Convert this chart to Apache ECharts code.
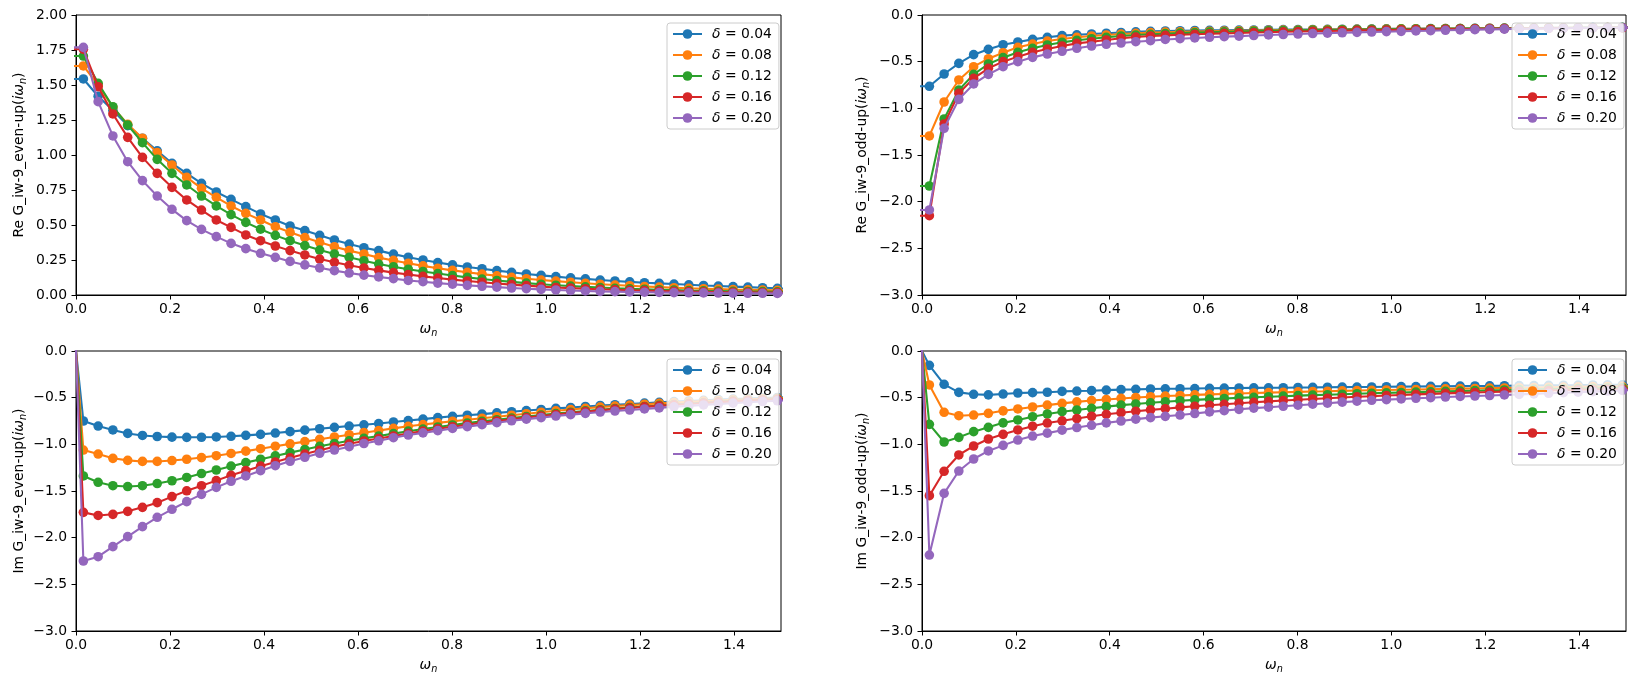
<!DOCTYPE html>
<html><head><meta charset="utf-8">
<script src="https://cdn.jsdelivr.net/npm/echarts@6/dist/echarts.min.js"></script>
<style>html,body{margin:0;padding:0;background:#fff}#c{width:1636px;height:685px}</style>
</head><body><div id="c"></div>
<script>
// Matsubara frequencies (first one negative, last one just past the axis end)
const omega = [-0.0157, 0.0157, 0.0471, 0.0785, 0.1100, 0.1414, 0.1728, 0.2042, 0.2356, 0.2670, 0.2985, 0.3299, 0.3613, 0.3927, 0.4241, 0.4555, 0.4869, 0.5184, 0.5498, 0.5812, 0.6126, 0.6440, 0.6754, 0.7069, 0.7383, 0.7697, 0.8011, 0.8325, 0.8639, 0.8954, 0.9268, 0.9582, 0.9896, 1.0210, 1.0524, 1.0838, 1.1153, 1.1467, 1.1781, 1.2095, 1.2409, 1.2723, 1.3038, 1.3352, 1.3666, 1.3980, 1.4294, 1.4608, 1.4923, 1.5237];
const seriesNames = ['δ = 0.04', 'δ = 0.08', 'δ = 0.12', 'δ = 0.16', 'δ = 0.20'];
const xTickValues = [0, 0.2, 0.4, 0.6, 0.8, 1.0, 1.2, 1.4];
const yTicksRe = [0, 0.25, 0.5, 0.75, 1.0, 1.25, 1.5, 1.75, 2.0];
const yTicksNeg = [-3.0, -2.5, -2.0, -1.5, -1.0, -0.5, 0.0];

// Re G even-up
const reEvenD004 = [1.543, 1.543, 1.42, 1.32, 1.21, 1.12, 1.03, 0.94, 0.869, 0.798, 0.736, 0.683, 0.631, 0.579, 0.536, 0.493, 0.46, 0.426, 0.393, 0.364, 0.338, 0.317, 0.292, 0.270, 0.250, 0.232, 0.215, 0.200, 0.188, 0.174, 0.162, 0.150, 0.140, 0.131, 0.122, 0.115, 0.107, 0.100, 0.094, 0.088, 0.083, 0.078, 0.073, 0.068, 0.064, 0.060, 0.056, 0.052, 0.048, 0.045];
const reEvenD008 = [1.636, 1.636, 1.50, 1.34, 1.22, 1.12, 1.017, 0.929, 0.84, 0.762, 0.698, 0.636, 0.583, 0.536, 0.488, 0.448, 0.41, 0.376, 0.345, 0.317, 0.293, 0.267, 0.247, 0.227, 0.208, 0.191, 0.176, 0.162, 0.149, 0.137, 0.126, 0.116, 0.107, 0.099, 0.091, 0.084, 0.077, 0.071, 0.066, 0.061, 0.056, 0.052, 0.048, 0.045, 0.042, 0.039, 0.037, 0.035, 0.033, 0.031];
const reEvenD012 = [1.707, 1.707, 1.512, 1.345, 1.214, 1.088, 0.969, 0.869, 0.786, 0.707, 0.636, 0.574, 0.519, 0.470, 0.426, 0.388, 0.353, 0.321, 0.293, 0.269, 0.245, 0.221, 0.202, 0.184, 0.168, 0.153, 0.139, 0.126, 0.114, 0.104, 0.094, 0.085, 0.077, 0.070, 0.064, 0.058, 0.053, 0.048, 0.044, 0.041, 0.038, 0.035, 0.032, 0.030, 0.028, 0.026, 0.025, 0.024, 0.023, 0.022];
const reEvenD016 = [1.755, 1.755, 1.488, 1.293, 1.126, 0.983, 0.869, 0.769, 0.679, 0.607, 0.536, 0.483, 0.429, 0.388, 0.35, 0.317, 0.286, 0.257, 0.234, 0.212, 0.193, 0.176, 0.160, 0.146, 0.133, 0.121, 0.110, 0.100, 0.091, 0.082, 0.074, 0.067, 0.060, 0.054, 0.049, 0.045, 0.041, 0.037, 0.034, 0.031, 0.029, 0.027, 0.025, 0.023, 0.021, 0.020, 0.019, 0.018, 0.017, 0.016];
const reEvenD020 = [1.769, 1.769, 1.381, 1.136, 0.952, 0.817, 0.707, 0.612, 0.531, 0.469, 0.417, 0.369, 0.331, 0.298, 0.269, 0.240, 0.215, 0.194, 0.174, 0.157, 0.142, 0.129, 0.117, 0.104, 0.095, 0.085, 0.077, 0.069, 0.062, 0.056, 0.050, 0.045, 0.040, 0.036, 0.032, 0.029, 0.026, 0.024, 0.022, 0.020, 0.018, 0.017, 0.016, 0.015, 0.014, 0.013, 0.012, 0.012, 0.011, 0.011];

// Re G odd-up
const reOddD004 = [-0.764, -0.764, -0.632, -0.518, -0.425, -0.368, -0.318, -0.289, -0.261, -0.239, -0.221, -0.212, -0.203, -0.195, -0.187, -0.180, -0.175, -0.171, -0.168, -0.166, -0.164, -0.163, -0.161, -0.160, -0.158, -0.157, -0.156, -0.155, -0.153, -0.152, -0.151, -0.150, -0.149, -0.148, -0.147, -0.146, -0.145, -0.144, -0.143, -0.142, -0.141, -0.140, -0.139, -0.138, -0.137, -0.136, -0.135, -0.134, -0.133, -0.132];
const reOddD008 = [-1.296, -1.296, -0.932, -0.696, -0.554, -0.468, -0.404, -0.346, -0.311, -0.279, -0.257, -0.239, -0.225, -0.214, -0.204, -0.196, -0.189, -0.184, -0.180, -0.177, -0.174, -0.171, -0.168, -0.166, -0.164, -0.162, -0.160, -0.158, -0.156, -0.155, -0.153, -0.152, -0.150, -0.149, -0.148, -0.147, -0.146, -0.145, -0.144, -0.143, -0.142, -0.141, -0.140, -0.139, -0.138, -0.137, -0.136, -0.135, -0.134, -0.133];
const reOddD012 = [-1.832, -1.832, -1.114, -0.804, -0.636, -0.525, -0.457, -0.400, -0.357, -0.321, -0.293, -0.271, -0.254, -0.239, -0.225, -0.214, -0.207, -0.200, -0.194, -0.189, -0.184, -0.180, -0.176, -0.173, -0.170, -0.167, -0.165, -0.162, -0.160, -0.158, -0.156, -0.154, -0.153, -0.151, -0.150, -0.148, -0.147, -0.146, -0.145, -0.144, -0.143, -0.142, -0.141, -0.140, -0.139, -0.138, -0.137, -0.136, -0.135, -0.134];
const reOddD016 = [-2.150, -2.150, -1.168, -0.839, -0.679, -0.571, -0.500, -0.446, -0.400, -0.364, -0.332, -0.304, -0.286, -0.268, -0.250, -0.236, -0.225, -0.218, -0.212, -0.206, -0.201, -0.197, -0.192, -0.188, -0.184, -0.180, -0.177, -0.174, -0.171, -0.168, -0.165, -0.163, -0.160, -0.158, -0.156, -0.154, -0.152, -0.150, -0.149, -0.147, -0.146, -0.145, -0.143, -0.142, -0.141, -0.140, -0.139, -0.138, -0.137, -0.136];
const reOddD020 = [-2.089, -2.089, -1.214, -0.904, -0.739, -0.636, -0.554, -0.500, -0.454, -0.418, -0.389, -0.357, -0.332, -0.314, -0.300, -0.286, -0.275, -0.262, -0.254, -0.246, -0.239, -0.232, -0.226, -0.220, -0.214, -0.209, -0.204, -0.199, -0.194, -0.190, -0.186, -0.182, -0.178, -0.175, -0.171, -0.168, -0.164, -0.160, -0.157, -0.154, -0.151, -0.148, -0.146, -0.144, -0.142, -0.140, -0.138, -0.137, -0.136, -0.135];

// Im G even-up
const imEvenD004 = [0.750, -0.750, -0.804, -0.846, -0.883, -0.905, -0.916, -0.923, -0.925, -0.924, -0.921, -0.914, -0.904, -0.893, -0.879, -0.864, -0.848, -0.833, -0.818, -0.804, -0.791, -0.777, -0.760, -0.745, -0.730, -0.714, -0.700, -0.688, -0.676, -0.663, -0.651, -0.638, -0.626, -0.615, -0.605, -0.594, -0.584, -0.576, -0.568, -0.559, -0.550, -0.542, -0.535, -0.528, -0.521, -0.515, -0.509, -0.503, -0.498, -0.493];
const imEvenD008 = [1.061, -1.061, -1.104, -1.150, -1.172, -1.183, -1.183, -1.174, -1.160, -1.142, -1.122, -1.098, -1.073, -1.047, -1.020, -0.995, -0.971, -0.946, -0.921, -0.897, -0.875, -0.852, -0.829, -0.807, -0.788, -0.770, -0.752, -0.736, -0.720, -0.704, -0.688, -0.672, -0.656, -0.641, -0.627, -0.614, -0.601, -0.590, -0.580, -0.570, -0.561, -0.553, -0.545, -0.537, -0.530, -0.524, -0.518, -0.512, -0.507, -0.502];
const imEvenD012 = [1.339, -1.339, -1.407, -1.443, -1.452, -1.443, -1.420, -1.390, -1.355, -1.313, -1.275, -1.234, -1.196, -1.160, -1.124, -1.089, -1.055, -1.021, -0.991, -0.962, -0.936, -0.911, -0.885, -0.859, -0.836, -0.814, -0.793, -0.773, -0.754, -0.736, -0.719, -0.702, -0.686, -0.671, -0.656, -0.642, -0.629, -0.617, -0.605, -0.594, -0.583, -0.573, -0.563, -0.554, -0.545, -0.537, -0.529, -0.522, -0.515, -0.509];
const imEvenD016 = [1.729, -1.729, -1.762, -1.750, -1.718, -1.675, -1.625, -1.560, -1.498, -1.443, -1.389, -1.332, -1.282, -1.234, -1.189, -1.145, -1.104, -1.063, -1.027, -0.994, -0.964, -0.938, -0.910, -0.883, -0.858, -0.834, -0.811, -0.790, -0.769, -0.750, -0.731, -0.713, -0.696, -0.680, -0.664, -0.650, -0.636, -0.623, -0.611, -0.599, -0.588, -0.577, -0.567, -0.557, -0.548, -0.540, -0.532, -0.525, -0.518, -0.511];
const imEvenD020 = [2.250, -2.250, -2.204, -2.096, -1.989, -1.882, -1.782, -1.696, -1.614, -1.536, -1.461, -1.396, -1.339, -1.282, -1.229, -1.182, -1.139, -1.096, -1.061, -1.025, -0.991, -0.962, -0.929, -0.900, -0.877, -0.853, -0.830, -0.810, -0.789, -0.768, -0.748, -0.730, -0.714, -0.697, -0.682, -0.668, -0.654, -0.643, -0.632, -0.621, -0.609, -0.598, -0.588, -0.578, -0.568, -0.559, -0.550, -0.541, -0.533, -0.526];

// Im G odd-up
const imOddD004 = [0.154, -0.154, -0.357, -0.443, -0.464, -0.470, -0.461, -0.450, -0.446, -0.442, -0.433, -0.429, -0.425, -0.419, -0.414, -0.411, -0.407, -0.405, -0.404, -0.402, -0.400, -0.398, -0.396, -0.395, -0.394, -0.393, -0.391, -0.390, -0.388, -0.387, -0.386, -0.385, -0.383, -0.382, -0.381, -0.379, -0.378, -0.376, -0.375, -0.374, -0.372, -0.371, -0.370, -0.368, -0.367, -0.366, -0.364, -0.363, -0.362, -0.361];
const imOddD008 = [0.364, -0.364, -0.657, -0.693, -0.686, -0.668, -0.641, -0.621, -0.600, -0.580, -0.561, -0.545, -0.531, -0.519, -0.508, -0.498, -0.490, -0.483, -0.476, -0.470, -0.465, -0.460, -0.455, -0.450, -0.446, -0.442, -0.438, -0.434, -0.431, -0.427, -0.424, -0.421, -0.418, -0.415, -0.412, -0.409, -0.406, -0.403, -0.401, -0.398, -0.396, -0.393, -0.391, -0.388, -0.386, -0.384, -0.382, -0.380, -0.378, -0.376];
const imOddD012 = [0.786, -0.786, -0.975, -0.925, -0.864, -0.818, -0.770, -0.739, -0.704, -0.675, -0.650, -0.632, -0.614, -0.596, -0.580, -0.568, -0.555, -0.543, -0.533, -0.524, -0.516, -0.509, -0.502, -0.496, -0.490, -0.484, -0.478, -0.473, -0.468, -0.463, -0.458, -0.453, -0.449, -0.445, -0.441, -0.437, -0.433, -0.429, -0.425, -0.421, -0.418, -0.414, -0.411, -0.408, -0.405, -0.402, -0.399, -0.396, -0.393, -0.391];
const imOddD016 = [1.550, -1.550, -1.289, -1.114, -1.018, -0.943, -0.893, -0.846, -0.806, -0.772, -0.748, -0.724, -0.699, -0.678, -0.661, -0.645, -0.631, -0.618, -0.604, -0.592, -0.581, -0.571, -0.560, -0.550, -0.540, -0.531, -0.522, -0.514, -0.506, -0.498, -0.491, -0.484, -0.477, -0.471, -0.465, -0.459, -0.454, -0.449, -0.444, -0.439, -0.435, -0.431, -0.427, -0.423, -0.419, -0.416, -0.413, -0.410, -0.407, -0.404];
const imOddD020 = [2.186, -2.186, -1.525, -1.286, -1.157, -1.071, -1.011, -0.954, -0.911, -0.880, -0.848, -0.820, -0.796, -0.770, -0.750, -0.730, -0.714, -0.700, -0.686, -0.670, -0.652, -0.639, -0.625, -0.612, -0.602, -0.592, -0.581, -0.570, -0.559, -0.548, -0.538, -0.528, -0.521, -0.514, -0.507, -0.500, -0.493, -0.487, -0.482, -0.477, -0.471, -0.465, -0.459, -0.453, -0.447, -0.441, -0.435, -0.429, -0.423, -0.418];

const panelSeries = [
  [reEvenD004, reEvenD008, reEvenD012, reEvenD016, reEvenD020],
  [reOddD004, reOddD008, reOddD012, reOddD016, reOddD020],
  [imEvenD004, imEvenD008, imEvenD012, imEvenD016, imEvenD020],
  [imOddD004, imOddD008, imOddD012, imOddD016, imOddD020]
];
const yLabels = [
  '{t|Re G_iw-9_even-up(}{w|iω}{s|n}{t|)}',
  '{t|Re G_iw-9_odd-up(}{w|iω}{s|n}{t|)}',
  '{t|Im G_iw-9_even-up(}{w|iω}{s|n}{t|)}',
  '{t|Im G_iw-9_odd-up(}{w|iω}{s|n}{t|)}'
];

const FF = 'DejaVu Sans';
const FS = 13.9;
const X_MIN = 0, X_MAX = 1.5;
const colors = ['#1f77b4', '#ff7f0e', '#2ca02c', '#d62728', '#9467bd'];
const grids = [
  {left: 76, top: 15, width: 705, height: 280},
  {left: 922, top: 15, width: 704, height: 280},
  {left: 76, top: 351, width: 705, height: 280},
  {left: 922, top: 351, width: 704, height: 280}
];
const yNameGap = [48, 51, 48, 51];
const nameRich = {
  t: {fontFamily: FF, fontSize: FS, color: '#000', lineHeight: 18},
  w: {fontFamily: FF, fontStyle: 'italic', fontSize: FS, color: '#000', lineHeight: 18},
  s: {fontFamily: FF, fontStyle: 'italic', fontSize: 9.7, color: '#000', lineHeight: 6, verticalAlign: 'bottom'}
};
const minus = s => s.replace('-', '\u2212');

const option = {
  animation: false,
  backgroundColor: '#fff',
  grid: grids.map(g => Object.assign({show: true, borderColor: '#000', borderWidth: 1, backgroundColor: 'transparent', containLabel: false, z: 0}, g)),
  xAxis: grids.map((g, i) => ({
    gridIndex: i, type: 'value', min: X_MIN, max: X_MAX, interval: 0.2,
    axisLine: {show: true, onZero: false, lineStyle: {color: '#000', width: 1}},
    axisTick: {show: true, length: 4.5, inside: false, customValues: xTickValues, lineStyle: {color: '#000', width: 1}},
    axisLabel: {customValues: xTickValues, formatter: v => minus(v.toFixed(1)), color: '#000', fontFamily: FF, fontSize: FS, margin: 7},
    splitLine: {show: false},
    name: '{w|ω}{s|n}', nameLocation: 'middle', nameGap: 25,
    nameTextStyle: {rich: nameRich}
  })),
  yAxis: grids.map((g, i) => ({
    gridIndex: i, type: 'value',
    min: i === 0 ? 0 : -3, max: i === 0 ? 2 : 0, interval: i === 0 ? 0.25 : 0.5,
    axisLine: {show: true, onZero: false, lineStyle: {color: '#000', width: 1}},
    axisTick: {show: true, length: 4.5, inside: false, customValues: i === 0 ? yTicksRe : yTicksNeg, lineStyle: {color: '#000', width: 1}},
    axisLabel: {customValues: i === 0 ? yTicksRe : yTicksNeg, formatter: v => minus(v.toFixed(i === 0 ? 2 : 1)), color: '#000', fontFamily: FF, fontSize: FS, margin: 9},
    splitLine: {show: false},
    name: yLabels[i], nameLocation: 'middle', nameGap: yNameGap[i], nameRotate: 90,
    nameTextStyle: {rich: nameRich}
  })),
  legend: grids.map((g, i) => ({
    orient: 'vertical', left: g.left + g.width - 114, top: g.top + 8,
    data: seriesNames, selectedMode: false, z: 20,
    padding: [4, 7, 4, 5], itemWidth: 29, itemHeight: 12, itemGap: 7,
    backgroundColor: 'rgba(255,255,255,0.8)', borderColor: '#cccccc', borderWidth: 1, borderRadius: 3,
    formatter: n => '{d|δ}{t| = ' + n.split('= ')[1] + '}',
    textStyle: {
      fontFamily: FF, fontSize: FS, color: '#000',
      rich: {
        d: {fontFamily: FF, fontStyle: 'italic', fontSize: FS, color: '#000', lineHeight: 14, padding: [0, 0, 0, 5]},
        t: {fontFamily: FF, fontSize: FS, color: '#000', lineHeight: 14}
      }
    }
  })),
  series: []
};

panelSeries.forEach((arrs, gi) => {
  arrs.forEach((arr, k) => {
    option.series.push({
      type: 'line', name: seriesNames[k], xAxisIndex: gi, yAxisIndex: gi,
      // points outside the visible x range only carry the line to the frame
      data: omega.map((x, j) => (x < X_MIN || x > X_MAX) ? {value: [x, arr[j]], symbol: 'none'} : [x, arr[j]]),
      symbol: 'circle', symbolSize: 9.6, showSymbol: true, showAllSymbol: true,
      lineStyle: {width: 2.08, color: colors[k]}, itemStyle: {color: colors[k]},
      clip: true, z: 2 + k, emphasis: {disabled: true}, silent: true
    });
  });
});

const chart = echarts.init(document.getElementById('c'), null, {renderer: 'canvas'});
chart.setOption(option);
</script>
</body></html>
